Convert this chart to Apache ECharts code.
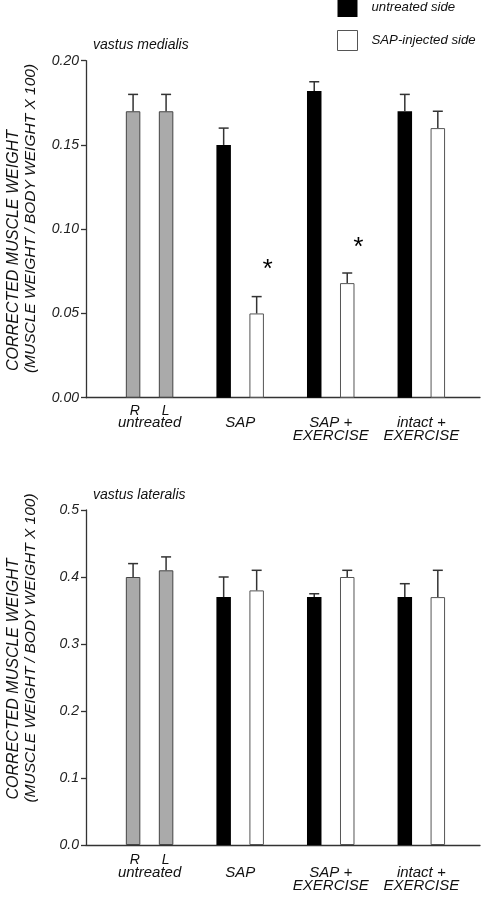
<!DOCTYPE html>
<html>
<head>
<meta charset="utf-8">
<script src="https://cdn.jsdelivr.net/npm/echarts@6/dist/echarts.min.js"></script>
<style>
html,body{margin:0;padding:0;background:#fff;}
#chart{width:481px;height:900px;}
</style>
</head>
<body>
<div id="chart"></div>
<script>
// ---- data ----
const categories = ['untreated', 'SAP', 'SAP +\nEXERCISE', 'intact +\nEXERCISE'];
const sideLabels = ['R', 'L'];
const seriesNames = ['untreated side', 'SAP-injected side'];
// vastus medialis (first category: R / L of untreated animals)
const medUntreated = [0.17, 0.15, 0.182, 0.17];
const medUntreatedErr = [0.18, 0.16, 0.1875, 0.18];
const medInjected = [0.17, 0.05, 0.068, 0.16];
const medInjectedErr = [0.18, 0.06, 0.074, 0.17];
const medSigCats = [1, 2];
const medSigVals = [0.079, 0.092];
const medTicks = [0, 0.05, 0.10, 0.15, 0.20];
// vastus lateralis
const latUntreated = [0.40, 0.37, 0.37, 0.37];
const latUntreatedErr = [0.42, 0.40, 0.375, 0.39];
const latInjected = [0.41, 0.38, 0.40, 0.37];
const latInjectedErr = [0.43, 0.41, 0.41, 0.41];
const latTicks = [0, 0.1, 0.2, 0.3, 0.4, 0.5];
const panelTitles = ['vastus medialis', 'vastus lateralis'];
const yTitle = 'CORRECTED MUSCLE WEIGHT';
const ySubTitle = '(MUSCLE WEIGHT / BODY WEIGHT X 100)';

// ---- style ----
const FONT = '"Liberation Sans", Arial, Helvetica, sans-serif';
const BAR_W = 14.5;
const GAP_PX = 18.5;
const OFF = (BAR_W + GAP_PX) / 2;
const GRAY = '#aaaaaa';
const AXIS = '#333';

const chart = echarts.init(document.getElementById('chart'), null, {renderer: 'canvas'});

function catLabel(value, index) {
  const lines = String(value).split('\n').map(l => '{m|' + l + '}').join('\n');
  const first = index === 0 ? '{r|' + sideLabels[0] + '}{l|' + sideLabels[1] + '}' : '{l| }';
  return first + '\n' + lines;
}

const richText = {
  r: {fontSize: 14, lineHeight: 12, padding: [0, 22, 0, 0], fontStyle: 'italic', fontFamily: FONT, color: '#111'},
  l: {fontSize: 14, lineHeight: 12, fontStyle: 'italic', fontFamily: FONT, color: '#111'},
  m: {fontSize: 15, lineHeight: 13, fontStyle: 'italic', fontFamily: FONT, color: '#111'}
};

function barData(vals) {
  return vals.map((v, i) => i === 0 ? {value: v, itemStyle: {color: GRAY, borderColor: '#444', borderWidth: 1}} : v);
}

function errSeries(vals, errs, side, axisIdx) {
  return {
    type: 'custom',
    xAxisIndex: axisIdx, yAxisIndex: axisIdx,
    z: 5,
    silent: true,
    data: vals.map((v, i) => [i, v, errs[i]]),
    renderItem: function (params, api) {
      const p0 = api.coord([api.value(0), api.value(1)]);
      const p1 = api.coord([api.value(0), api.value(2)]);
      const x = p0[0] + (side === 0 ? -OFF : OFF);
      return {
        type: 'group',
        children: [
          {type: 'line', shape: {x1: x, y1: p0[1], x2: x, y2: p1[1]}, style: {stroke: '#333', lineWidth: 1.5}},
          {type: 'line', shape: {x1: x - 5, y1: p1[1], x2: x + 5, y2: p1[1]}, style: {stroke: '#333', lineWidth: 1.5}}
        ]
      };
    }
  };
}

function sigSeries(cats, vals, axisIdx) {
  return {
    type: 'custom',
    xAxisIndex: axisIdx, yAxisIndex: axisIdx,
    z: 6, silent: true,
    data: cats.map((c, i) => [c, vals[i]]),
    renderItem: function (params, api) {
      const p = api.coord([api.value(0), api.value(1)]);
      return {
        type: 'text',
        x: p[0] + OFF + 10, y: p[1] + 5,
        style: {text: '*', fontSize: 26, fontStyle: 'italic', fontFamily: FONT, fill: '#000', align: 'center', verticalAlign: 'middle'}
      };
    }
  };
}

const grids = [
  {left: 86, top: 60.7, width: 394, height: 337},
  {left: 104.3, top: 60.7, width: 362.3, height: 337},
  {left: 86, top: 510, width: 394, height: 335},
  {left: 104.3, top: 510, width: 362.3, height: 335}
];

function frameX(g) {
  return {gridIndex: g, type: 'value', min: 0, max: 1,
    axisLine: {show: true, onZero: false, lineStyle: {color: AXIS, width: 1.3}},
    axisTick: {show: false}, axisLabel: {show: false}, splitLine: {show: false}};
}
function catX(g, margin) {
  return {gridIndex: g, type: 'category', data: categories,
    axisLine: {show: false}, axisTick: {show: false},
    axisLabel: {interval: 0, margin: margin, formatter: catLabel, rich: richText}};
}
function frameY(g, ticks, digits) {
  return {gridIndex: g, type: 'value', min: ticks[0], max: ticks[ticks.length - 1],
    interval: ticks[1] - ticks[0],
    axisLine: {show: true, lineStyle: {color: AXIS, width: 1.3}},
    axisTick: {show: true, inside: false, length: 5, lineStyle: {color: AXIS, width: 1.3}},
    axisLabel: {margin: 7, fontSize: 14, fontStyle: 'italic', fontFamily: FONT, color: '#222',
      formatter: v => v.toFixed(digits)},
    splitLine: {show: false}};
}
function hiddenY(g, ticks) {
  return {gridIndex: g, type: 'value', min: ticks[0], max: ticks[ticks.length - 1], show: false, splitLine: {show: false}};
}

function barSeries(name, vals, axisIdx, color, border) {
  return {
    name: name, type: 'bar', xAxisIndex: axisIdx, yAxisIndex: axisIdx,
    barWidth: BAR_W, barGap: (GAP_PX / BAR_W * 100).toFixed(1) + '%',
    itemStyle: {color: color, borderColor: border, borderWidth: border ? 1 : 0},
    data: barData(vals), z: 2
  };
}

function yTitleGraphic(text, x, y, size) {
  return {type: 'text', x: x, y: y, rotation: Math.PI / 2,
    style: {text: text, fontSize: size, fontStyle: 'italic', fontFamily: FONT, fill: '#111', align: 'center', verticalAlign: 'middle'}};
}

const option = {
  animation: false,
  backgroundColor: '#fff',
  grid: grids,
  legend: {
    orient: 'vertical', left: 337, top: -3, padding: 0, itemWidth: 20, itemHeight: 20, itemGap: 13,
    icon: 'rect', selectedMode: false,
    data: [
      {name: seriesNames[0], itemStyle: {color: '#000', borderWidth: 0}},
      {name: seriesNames[1], itemStyle: {color: '#fff', borderColor: '#555', borderWidth: 1}}
    ],
    textStyle: {fontSize: 13.2, fontStyle: 'italic', fontFamily: FONT, color: '#111', padding: [0, 0, 0, 9]}
  },
  xAxis: [frameX(0), catX(1, 7), frameX(2), catX(3, 9)],
  yAxis: [frameY(0, medTicks, 2), hiddenY(1, medTicks), frameY(2, latTicks, 1), hiddenY(3, latTicks)],
  graphic: [
    {type: 'text', x: 93, y: 45, style: {text: panelTitles[0], fontSize: 14, fontStyle: 'italic', fontFamily: FONT, fill: '#111', align: 'left', verticalAlign: 'middle'}},
    {type: 'text', x: 93, y: 495, style: {text: panelTitles[1], fontSize: 14, fontStyle: 'italic', fontFamily: FONT, fill: '#111', align: 'left', verticalAlign: 'middle'}},
    yTitleGraphic(yTitle, 14, 250.5, 16),
    yTitleGraphic(ySubTitle, 31, 218.5, 15.5),
    yTitleGraphic(yTitle, 14, 679, 16),
    yTitleGraphic(ySubTitle, 31, 648, 15.5)
  ],
  series: [
    barSeries(seriesNames[0], medUntreated, 1, '#000', null),
    barSeries(seriesNames[1], medInjected, 1, '#fff', '#555'),
    errSeries(medUntreated, medUntreatedErr, 0, 1),
    errSeries(medInjected, medInjectedErr, 1, 1),
    sigSeries(medSigCats, medSigVals, 1),
    barSeries(seriesNames[0], latUntreated, 3, '#000', null),
    barSeries(seriesNames[1], latInjected, 3, '#fff', '#555'),
    errSeries(latUntreated, latUntreatedErr, 0, 3),
    errSeries(latInjected, latInjectedErr, 1, 3)
  ]
};
chart.setOption(option);
</script>
</body>
</html>
